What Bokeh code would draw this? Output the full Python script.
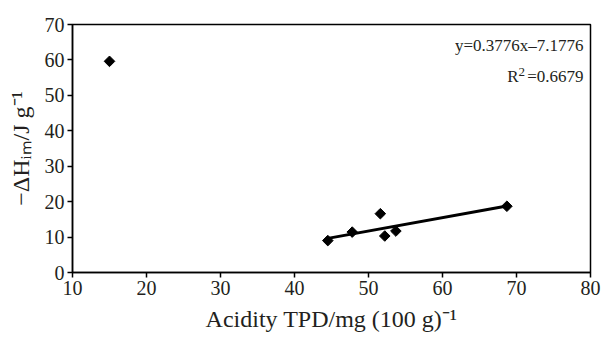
import math
from bokeh.plotting import figure
from bokeh.models import Label, FixedTicker, Range1d
from bokeh.embed import file_html
from bokeh.resources import INLINE

# data
acidity = [15.0, 44.5, 47.8, 51.6, 52.2, 53.7, 68.7]
enthalpy = [59.6, 9.0, 11.4, 16.6, 10.3, 11.7, 18.7]
slope = 0.3776
intercept = -7.1776
x_ticks = [10, 20, 30, 40, 50, 60, 70, 80]
y_ticks = [0, 10, 20, 30, 40, 50, 60, 70]

FONT = "Liberation Serif"
TXT = "#231f20"

p = figure(width=606, height=340, output_backend="svg", toolbar_location=None,
           x_range=Range1d(10, 80), y_range=Range1d(0, 70),
           min_border_left=72, min_border_right=16, min_border_top=24, min_border_bottom=68)
p.xgrid.visible = False
p.ygrid.visible = False
p.outline_line_color = "black"
p.outline_line_width = 1.5
p.background_fill_color = "white"
p.border_fill_color = "white"

for ax, ticks in ((p.xaxis, x_ticks), (p.yaxis, y_ticks)):
    ax.ticker = FixedTicker(ticks=ticks)
    ax.axis_line_color = "black"
    ax.axis_line_width = 1.5
    ax.major_tick_line_color = "black"
    ax.major_tick_line_width = 1.5
    ax.major_tick_in = 0
    ax.major_tick_out = 5
    ax.minor_tick_line_color = None
    ax.major_label_text_font = FONT
    ax.major_label_text_font_size = "20px"
    ax.major_label_text_color = TXT
    ax.major_label_standoff = 3
    ax.axis_label_text_font = FONT
    ax.axis_label_text_font_style = "normal"
    ax.axis_label_text_font_size = "24px"
    ax.axis_label_text_color = TXT

p.xaxis.axis_label = "Acidity TPD/mg (100 g)\u207b\u00b9"
p.xaxis.axis_label_standoff = 8
p.yaxis.axis_label = "\u2212\u0394H\u1d62\u2098/J g\u207b\u00b9"
p.yaxis.axis_label_standoff = 8

# trend line over the range of the clustered samples
fit_x = [min(acidity[1:]), max(acidity)]
fit_y = [slope * v + intercept for v in fit_x]
p.line(fit_x, fit_y, line_color="black", line_width=3)

p.scatter(acidity, enthalpy, marker="square", angle=math.pi / 4, size=7.5,
          fill_color="black", line_color="black")


def lab(text, dx, dy, size, align="left"):
    p.add_layout(Label(x=10, y=0, x_offset=dx, y_offset=dy, text=text,
                       text_font=FONT, text_font_size=f"{size}px", text_color=TXT,
                       text_align=align, text_baseline="alphabetic"))


# regression annotation
lab("y=0.3776x\u20137.1776", 511, 227, 17, align="right")
lab("=0.6679", 511, 196, 17, align="right")
lab("2", 446, 201, 13)
lab("R", 446, 196, 17, align="right")

open("out.html", "w").write(file_html(p, INLINE))
